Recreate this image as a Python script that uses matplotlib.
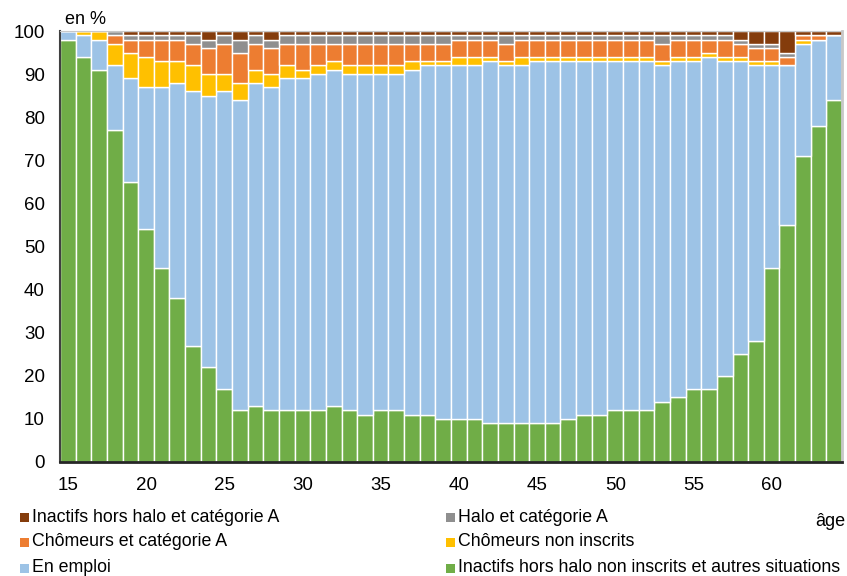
import matplotlib
matplotlib.use('Agg')
import matplotlib.pyplot as plt
from matplotlib.patches import Rectangle
import numpy as np

plt.rcParams['font.family'] = ['Liberation Sans', 'DejaVu Sans']

# ages 15..64
ages = list(range(15, 65))

inactifs_autres = [98, 94, 91, 77, 65, 54, 45, 38, 27, 22,
                   17, 12, 13, 12, 12, 12, 12, 13, 12, 11,
                   12, 12, 11, 11, 10, 10, 10, 9, 9, 9,
                   9, 9, 10, 11, 11, 12, 12, 12, 14, 15,
                   17, 17, 20, 25, 28, 45, 55, 71, 78, 84]
en_emploi = [2, 5, 7, 15, 24, 33, 42, 50, 59, 63,
             69, 72, 75, 75, 77, 77, 78, 78, 78, 79,
             78, 78, 80, 81, 82, 82, 82, 84, 83, 83,
             84, 84, 83, 82, 82, 81, 81, 81, 78, 78,
             76, 77, 73, 68, 64, 47, 37, 26, 20, 15]
chomeurs_non_inscrits = [0, 1, 2, 5, 6, 7, 6, 5, 6, 5,
                         4, 4, 3, 3, 3, 2, 2, 2, 2, 2,
                         2, 2, 2, 1, 1, 2, 2, 1, 1, 2,
                         1, 1, 1, 1, 1, 1, 1, 1, 1, 1,
                         1, 1, 1, 1, 1, 1, 0, 1, 0, 0]
chomeurs_cat_a = [0, 0, 0, 2, 3, 4, 5, 5, 5, 6,
                  7, 7, 6, 6, 5, 6, 5, 4, 5, 5,
                  5, 5, 4, 4, 4, 4, 4, 4, 4, 4,
                  4, 4, 4, 4, 4, 4, 4, 4, 4, 4,
                  4, 3, 4, 3, 3, 3, 2, 1, 1, 0]
halo_cat_a = [0, 0, 0, 1, 1, 1, 1, 1, 2, 2,
              2, 3, 2, 2, 2, 2, 2, 2, 2, 2,
              2, 2, 2, 2, 2, 1, 1, 1, 2, 1,
              1, 1, 1, 1, 1, 1, 1, 1, 2, 1,
              1, 1, 1, 1, 1, 1, 1, 0, 0, 0]
inactifs_cat_a = [0, 0, 0, 0, 1, 1, 1, 1, 1, 2,
                  1, 2, 1, 2, 1, 1, 1, 1, 1, 1,
                  1, 1, 1, 1, 1, 1, 1, 1, 1, 1,
                  1, 1, 1, 1, 1, 1, 1, 1, 1, 1,
                  1, 1, 1, 2, 3, 3, 5, 1, 1, 1]

series = [
    (inactifs_autres, '#70AD47', 'Inactifs hors halo non inscrits et autres situations'),
    (en_emploi, '#9DC3E6', 'En emploi'),
    (chomeurs_non_inscrits, '#FFC000', 'Chômeurs non inscrits'),
    (chomeurs_cat_a, '#ED7D31', 'Chômeurs et catégorie A'),
    (halo_cat_a, '#8F8F8F', 'Halo et catégorie A'),
    (inactifs_cat_a, '#843C0C', 'Inactifs hors halo et catégorie A'),
]

W, H = 847, 576
fig = plt.figure(figsize=(W / 100, H / 100), dpi=100)
ax = fig.add_axes([60 / W, 114 / H, 782 / W, 431 / H])

bottom = np.zeros(len(ages))
for vals, col, lab in series:
    ax.bar(ages, vals, width=1.0, bottom=bottom, color=col,
           edgecolor='white', linewidth=1.0, zorder=2)
    bottom += np.array(vals)

ax.set_xlim(14.5, 64.5)
ax.set_ylim(0, 100)
ax.set_yticks(range(0, 101, 10))
ax.set_xticks(range(15, 65, 5))
ax.tick_params(axis='both', length=0, labelsize=13.5, colors='black')
ax.tick_params(axis='x', pad=11)
ax.tick_params(axis='y', pad=11)
ax.yaxis.grid(True, color='#C8C8C8', linewidth=1.2, zorder=0)
ax.set_axisbelow(True)

ax.spines['left'].set_color('#404040')
ax.spines['left'].set_linewidth(1.5)
ax.spines['bottom'].set_color('#262626')
ax.spines['bottom'].set_linewidth(2)
ax.spines['top'].set_color('#C8C8C8')
ax.spines['right'].set_color('#C8C8C8')
ax.spines['right'].set_linewidth(2)

fig.text(65 / W, 1 - 20 / H, 'en %', fontsize=13, va='center', ha='left')
fig.text(845 / W, 1 - 522 / H, 'âge', fontsize=13, va='center', ha='right')

# legend laid out row by row, two columns, like the original
colors = {lab: col for _, col, lab in series}
legend_rows = [('Inactifs hors halo et catégorie A', 'Halo et catégorie A'),
               ('Chômeurs et catégorie A', 'Chômeurs non inscrits'),
               ('En emploi', 'Inactifs hors halo non inscrits et autres situations')]
col_x = [20, 446]
row_y = [517, 542, 568]
for r, pair in enumerate(legend_rows):
    for c, lab in enumerate(pair):
        x0, y0 = col_x[c], row_y[r]
        fig.add_artist(Rectangle((x0 / W, 1 - (y0 + 4.5) / H), 9 / W, 9 / H,
                                 transform=fig.transFigure, facecolor=colors[lab],
                                 edgecolor='none'))
        fig.text((x0 + 12) / W, 1 - y0 / H, lab, fontsize=12.8, va='center', ha='left')

plt.savefig('out.png', dpi=100)
